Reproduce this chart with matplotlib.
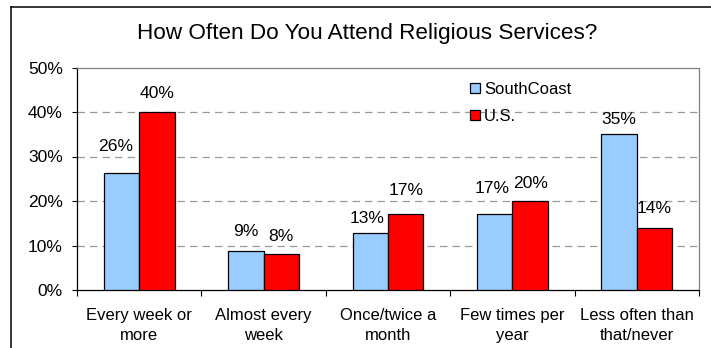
import matplotlib
matplotlib.use("Agg")
import matplotlib.pyplot as plt
from matplotlib.lines import Line2D
from matplotlib.patches import Patch
import numpy as np

plt.rcParams['font.family'] = ['Liberation Sans', 'DejaVu Sans']

categories = ["Every week or\nmore", "Almost every\nweek", "Once/twice a\nmonth",
              "Few times per\nyear", "Less often than\nthat/never"]
southcoast = [26.4, 8.8, 12.7, 17.0, 35.0]
us = [40.0, 8.0, 17.0, 20.0, 14.0]
series_names = ["SouthCoast", "U.S."]
y_ticks = [0, 10, 20, 30, 40, 50]

# label nudges in pixels (dx, dy above bar top)
sc_nudge = [(-6, 26), (0, 19), (-3, 15), (-3, 26), (0, 15)]
us_nudge = [(0, 19), (0, 18), (0, 24), (0, 18), (0, 19)]

W, H, DPI = 711, 348, 100
fig = plt.figure(figsize=(W / DPI, H / DPI), dpi=DPI)
ax = fig.add_axes([77 / W, 1 - 290 / H, (699 - 77) / W, (290 - 67.5) / H])

x = np.arange(len(categories))
bw = 0.285
b1 = ax.bar(x - bw / 2, southcoast, bw, color="#99CCFF", edgecolor="black", linewidth=0.9, zorder=3)
b2 = ax.bar(x + bw / 2, us, bw, color="#FF0000", edgecolor="black", linewidth=0.9, zorder=3)

for rects, vals, nudges in ((b1, southcoast, sc_nudge), (b2, us, us_nudge)):
    for r, v, (dx, dy) in zip(rects, vals, nudges):
        ax.annotate(f"{round(v):d}%", (r.get_x() + r.get_width() / 2, v),
                    xytext=(dx, dy), textcoords="offset pixels",
                    ha="center", va="center", fontsize=12.6, zorder=4)

ax.set_xlim(-0.5, len(categories) - 0.5)
ax.set_ylim(0, 50)
ax.set_yticks(y_ticks)
ax.set_yticklabels([f"{t}%" for t in y_ticks], fontsize=12.6)
ax.tick_params(axis="y", length=3.8, width=0.8, pad=6.5, direction="out")

# category boundaries carry the tick marks, centres carry the labels
ax.set_xticks(np.arange(len(categories) + 1) - 0.5)
ax.set_xticklabels([])
ax.tick_params(axis="x", which="major", length=4.3, width=0.8, direction="out")
ax.set_xticks(x, minor=True)
ax.set_xticklabels(categories, minor=True, fontsize=12, linespacing=1.38)
ax.tick_params(axis="x", which="minor", length=0, pad=13)

for t in y_ticks[1:-1]:
    ax.axhline(t, color="#9a9a9a", linestyle=(0, (6, 4)), linewidth=0.9, zorder=1)

ax.spines["left"].set_color("black")
ax.spines["bottom"].set_color("black")
ax.spines["top"].set_color("#808080")
ax.spines["right"].set_color("#808080")
for s in ax.spines.values():
    s.set_linewidth(0.9)

handles = [Patch(facecolor="#99CCFF", edgecolor="black", linewidth=0.9),
           Patch(facecolor="#FF0000", edgecolor="black", linewidth=0.9)]
fig.legend(handles, series_names, loc="upper left",
           bbox_to_anchor=(470 / W, 1 - 82 / H), frameon=False, fontsize=12,
           handlelength=0.6, handleheight=0.6, handletextpad=0.25,
           labelspacing=0.72, borderpad=0, borderaxespad=0)

fig.text(367.5 / W, 1 - 33.5 / H, "How Often Do You Attend Religious Services?",
         ha="center", va="center", fontsize=16.2)

# outer chart frame
fig.add_artist(Line2D([11 / W, 11 / W], [0, 1 - 7 / H], color="black", linewidth=1.1))
fig.add_artist(Line2D([11 / W, 1], [1 - 7 / H, 1 - 7 / H], color="black", linewidth=1.1))

fig.savefig("out.png", dpi=DPI)
